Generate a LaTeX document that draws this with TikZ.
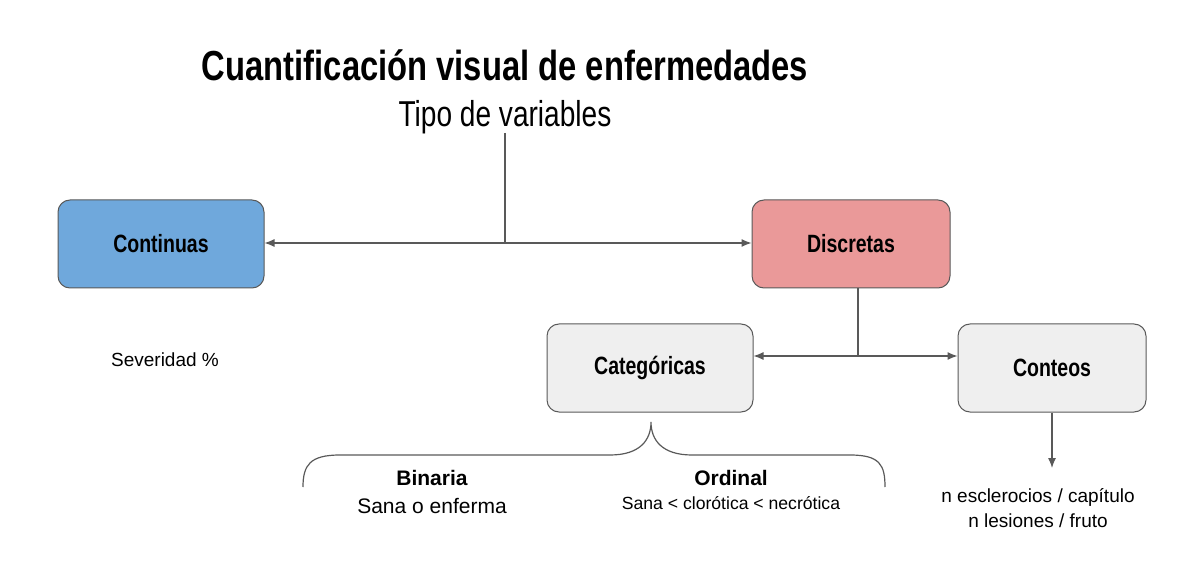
\documentclass[tikz,border=0pt]{standalone}
\usepackage{fontspec}
\setmainfont{Liberation Sans}
\newfontfamily\narrowbf[FakeStretch=0.78]{Liberation Sans}
\usetikzlibrary{arrows.meta,positioning,calc}
\definecolor{contblue}{HTML}{6FA8DC}
\definecolor{discred}{HTML}{EA9999}
\definecolor{boxgray}{HTML}{EFEFEF}
\definecolor{linegray}{HTML}{595959}
\tikzset{
  varbox/.style={draw=linegray, rounded corners=6pt, minimum width=103pt, minimum height=44pt,
    font=\narrowbf\bfseries\fontsize{12.5}{14}\selectfont, line width=0.5pt},
  link/.style={draw=linegray, line width=0.6pt},
  linkarrow/.style={link, -{Latex[length=5pt,width=4pt]}},
  plain/.style={font=\fontsize{9.5}{11}\selectfont, inner sep=0pt}
}
\begin{document}
\begin{tikzpicture}[x=0.5pt,y=-0.5pt]
  \useasboundingbox (0,0) rectangle (1200,561);
  % titles
  \node (title) at (505,65) {\narrowbf\bfseries\fontsize{21}{24}\selectfont Cuantificación visual de enfermedades};
  \node (subtitle) at (505,117) {\narrowbf\fontsize{18}{20}\selectfont Tipo de variables};
  % boxes
  \node[varbox, fill=contblue] (cont) at (161,244) {Continuas};
  \node[varbox, fill=discred, minimum width=99pt] (disc) at (851,244) {Discretas};
  \node[varbox, fill=boxgray] (cat) at (650,368) {Categóricas};
  \node[varbox, fill=boxgray, minimum width=94pt] (conteo) at (1052,368) {Conteos};
  \coordinate (top) at (505,133);
  \coordinate (split) at (505,243);
  \coordinate (dsplit) at (858,356);
  \coordinate (cend) at (1052,468);
  % connectors
  \draw[link] (top) -- (split);
  \draw[linkarrow] (split) -- (cont.east |- split);
  \draw[linkarrow] (split) -- (disc.west |- split);
  \draw[link] (disc.south -| dsplit) -- (dsplit);
  \draw[linkarrow] (dsplit) -- (cat.east |- dsplit);
  \draw[linkarrow] (dsplit) -- (conteo.west |- dsplit);
  \draw[linkarrow] (conteo.south -| cend) -- (cend);
  % brace
  \draw[link] (303,487) .. controls (303,465) and (310,455) .. (340,455) -- (610,455)
    .. controls (640,455) and (651,440) .. (651,422)
    .. controls (651,440) and (662,455) .. (692,455) -- (850,455)
    .. controls (880,455) and (885,465) .. (885,487);
  % texts
  \node[plain] (sev) at (165,360) {Severidad \%};
  \node[plain, font=\bfseries\fontsize{10.5}{12}\selectfont] (bin) at (432,478) {Binaria};
  \node[plain, font=\fontsize{10.5}{12}\selectfont] (bintxt) at (432,506) {Sana o enferma};
  \node[plain, font=\bfseries\fontsize{10.5}{12}\selectfont] (ord) at (731,478) {Ordinal};
  \node[plain, font=\fontsize{8.8}{10}\selectfont] (ordtxt) at (731,503) {Sana < clorótica < necrótica};
  \node[plain, align=center, font=\fontsize{9.5}{12.5}\selectfont] (cnttxt) at (1038,508) {n esclerocios / capítulo\\n lesiones / fruto};
\end{tikzpicture}
\end{document}
